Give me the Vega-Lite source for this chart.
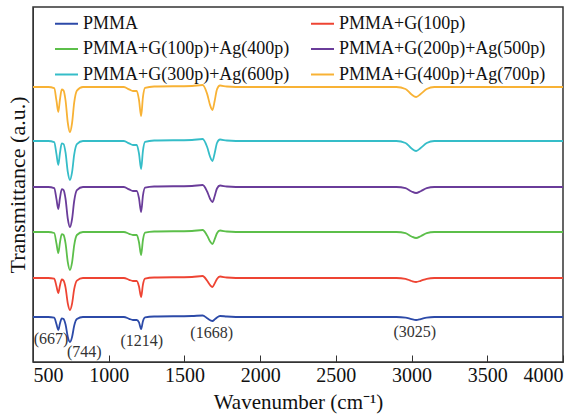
{
"$schema": "https://vega.github.io/schema/vega-lite/v6.json",
"width": 530, "height": 355,
"autosize": {"type": "none"},
"padding": {"left": 33, "top": 7, "right": 23, "bottom": 54},
"config": {"font": "Liberation Serif", "view": {"stroke": "#333333", "strokeWidth": 1.5}},
"layer": [
{
"data": {"values": [
{"s":"PMMA","x":500,"y":47},{"s":"PMMA","x":600,"y":47},{"s":"PMMA","x":640,"y":46.4},{"s":"PMMA","x":655,"y":39.9},{"s":"PMMA","x":667,"y":34},{"s":"PMMA","x":678,"y":40.5},{"s":"PMMA","x":690,"y":45.7},{"s":"PMMA","x":702,"y":45},{"s":"PMMA","x":715,"y":39.5},{"s":"PMMA","x":730,"y":27},{"s":"PMMA","x":744,"y":22},{"s":"PMMA","x":758,"y":27},{"s":"PMMA","x":772,"y":38.3},{"s":"PMMA","x":790,"y":45},{"s":"PMMA","x":830,"y":47},{"s":"PMMA","x":1000,"y":47},{"s":"PMMA","x":1100,"y":47},{"s":"PMMA","x":1135,"y":45.2},{"s":"PMMA","x":1160,"y":44},{"s":"PMMA","x":1185,"y":44},{"s":"PMMA","x":1200,"y":41.6},{"s":"PMMA","x":1214,"y":35},{"s":"PMMA","x":1226,"y":42.8},{"s":"PMMA","x":1240,"y":46.6},{"s":"PMMA","x":1300,"y":47.5},{"s":"PMMA","x":1550,"y":48},{"s":"PMMA","x":1620,"y":48.5},{"s":"PMMA","x":1650,"y":45.8},{"s":"PMMA","x":1670,"y":43.8},{"s":"PMMA","x":1685,"y":43},{"s":"PMMA","x":1700,"y":44.6},{"s":"PMMA","x":1715,"y":46.6},{"s":"PMMA","x":1735,"y":48},{"s":"PMMA","x":1780,"y":47.5},{"s":"PMMA","x":1900,"y":47},{"s":"PMMA","x":2900,"y":47},{"s":"PMMA","x":2960,"y":46.4},{"s":"PMMA","x":3000,"y":44.8},{"s":"PMMA","x":3030,"y":44},{"s":"PMMA","x":3060,"y":44.9},{"s":"PMMA","x":3100,"y":46.4},{"s":"PMMA","x":3150,"y":47},{"s":"PMMA","x":4000,"y":47},
{"s":"PMMA+G(100p)","x":500,"y":86},{"s":"PMMA+G(100p)","x":600,"y":86},{"s":"PMMA+G(100p)","x":640,"y":85.3},{"s":"PMMA+G(100p)","x":655,"y":77.8},{"s":"PMMA+G(100p)","x":667,"y":71},{"s":"PMMA+G(100p)","x":678,"y":78.5},{"s":"PMMA+G(100p)","x":690,"y":84.5},{"s":"PMMA+G(100p)","x":702,"y":83.4},{"s":"PMMA+G(100p)","x":715,"y":76.4},{"s":"PMMA+G(100p)","x":730,"y":60.4},{"s":"PMMA+G(100p)","x":744,"y":54},{"s":"PMMA+G(100p)","x":758,"y":60.4},{"s":"PMMA+G(100p)","x":772,"y":74.8},{"s":"PMMA+G(100p)","x":790,"y":83.4},{"s":"PMMA+G(100p)","x":830,"y":86},{"s":"PMMA+G(100p)","x":1000,"y":86},{"s":"PMMA+G(100p)","x":1100,"y":86},{"s":"PMMA+G(100p)","x":1135,"y":84.2},{"s":"PMMA+G(100p)","x":1160,"y":83},{"s":"PMMA+G(100p)","x":1185,"y":83},{"s":"PMMA+G(100p)","x":1200,"y":77.5},{"s":"PMMA+G(100p)","x":1214,"y":67},{"s":"PMMA+G(100p)","x":1226,"y":79.4},{"s":"PMMA+G(100p)","x":1240,"y":85.4},{"s":"PMMA+G(100p)","x":1300,"y":86.5},{"s":"PMMA+G(100p)","x":1550,"y":87},{"s":"PMMA+G(100p)","x":1620,"y":88},{"s":"PMMA+G(100p)","x":1650,"y":83.3},{"s":"PMMA+G(100p)","x":1670,"y":78.8},{"s":"PMMA+G(100p)","x":1685,"y":77},{"s":"PMMA+G(100p)","x":1700,"y":80.6},{"s":"PMMA+G(100p)","x":1715,"y":85.1},{"s":"PMMA+G(100p)","x":1735,"y":87.5},{"s":"PMMA+G(100p)","x":1780,"y":86.5},{"s":"PMMA+G(100p)","x":1900,"y":86},{"s":"PMMA+G(100p)","x":2900,"y":86},{"s":"PMMA+G(100p)","x":2960,"y":85.2},{"s":"PMMA+G(100p)","x":3000,"y":83},{"s":"PMMA+G(100p)","x":3030,"y":82},{"s":"PMMA+G(100p)","x":3060,"y":83.2},{"s":"PMMA+G(100p)","x":3100,"y":85.2},{"s":"PMMA+G(100p)","x":3150,"y":86},{"s":"PMMA+G(100p)","x":4000,"y":86},
{"s":"PMMA+G(100p)+Ag(400p)","x":500,"y":132},{"s":"PMMA+G(100p)+Ag(400p)","x":600,"y":132},{"s":"PMMA+G(100p)+Ag(400p)","x":640,"y":131},{"s":"PMMA+G(100p)+Ag(400p)","x":655,"y":120.5},{"s":"PMMA+G(100p)+Ag(400p)","x":667,"y":111},{"s":"PMMA+G(100p)+Ag(400p)","x":678,"y":121.5},{"s":"PMMA+G(100p)+Ag(400p)","x":690,"y":129.9},{"s":"PMMA+G(100p)+Ag(400p)","x":702,"y":129},{"s":"PMMA+G(100p)+Ag(400p)","x":715,"y":120.6},{"s":"PMMA+G(100p)+Ag(400p)","x":730,"y":101.6},{"s":"PMMA+G(100p)+Ag(400p)","x":744,"y":94},{"s":"PMMA+G(100p)+Ag(400p)","x":758,"y":101.6},{"s":"PMMA+G(100p)+Ag(400p)","x":772,"y":118.7},{"s":"PMMA+G(100p)+Ag(400p)","x":790,"y":129},{"s":"PMMA+G(100p)+Ag(400p)","x":830,"y":132},{"s":"PMMA+G(100p)+Ag(400p)","x":1000,"y":132},{"s":"PMMA+G(100p)+Ag(400p)","x":1100,"y":132},{"s":"PMMA+G(100p)+Ag(400p)","x":1135,"y":130.2},{"s":"PMMA+G(100p)+Ag(400p)","x":1160,"y":129},{"s":"PMMA+G(100p)+Ag(400p)","x":1185,"y":129},{"s":"PMMA+G(100p)+Ag(400p)","x":1200,"y":121.7},{"s":"PMMA+G(100p)+Ag(400p)","x":1214,"y":109},{"s":"PMMA+G(100p)+Ag(400p)","x":1226,"y":124},{"s":"PMMA+G(100p)+Ag(400p)","x":1240,"y":131.3},{"s":"PMMA+G(100p)+Ag(400p)","x":1300,"y":132.5},{"s":"PMMA+G(100p)+Ag(400p)","x":1550,"y":133},{"s":"PMMA+G(100p)+Ag(400p)","x":1620,"y":134},{"s":"PMMA+G(100p)+Ag(400p)","x":1650,"y":128.4},{"s":"PMMA+G(100p)+Ag(400p)","x":1670,"y":122.4},{"s":"PMMA+G(100p)+Ag(400p)","x":1685,"y":120},{"s":"PMMA+G(100p)+Ag(400p)","x":1700,"y":124.8},{"s":"PMMA+G(100p)+Ag(400p)","x":1715,"y":130.8},{"s":"PMMA+G(100p)+Ag(400p)","x":1735,"y":133.5},{"s":"PMMA+G(100p)+Ag(400p)","x":1780,"y":132.5},{"s":"PMMA+G(100p)+Ag(400p)","x":1900,"y":132},{"s":"PMMA+G(100p)+Ag(400p)","x":2900,"y":132},{"s":"PMMA+G(100p)+Ag(400p)","x":2960,"y":130.8},{"s":"PMMA+G(100p)+Ag(400p)","x":3000,"y":127.5},{"s":"PMMA+G(100p)+Ag(400p)","x":3030,"y":126},{"s":"PMMA+G(100p)+Ag(400p)","x":3060,"y":127.8},{"s":"PMMA+G(100p)+Ag(400p)","x":3100,"y":130.8},{"s":"PMMA+G(100p)+Ag(400p)","x":3150,"y":132},{"s":"PMMA+G(100p)+Ag(400p)","x":4000,"y":132},
{"s":"PMMA+G(200p)+Ag(500p)","x":500,"y":177},{"s":"PMMA+G(200p)+Ag(500p)","x":600,"y":177},{"s":"PMMA+G(200p)+Ag(500p)","x":640,"y":175.9},{"s":"PMMA+G(200p)+Ag(500p)","x":655,"y":164.9},{"s":"PMMA+G(200p)+Ag(500p)","x":667,"y":155},{"s":"PMMA+G(200p)+Ag(500p)","x":678,"y":166},{"s":"PMMA+G(200p)+Ag(500p)","x":690,"y":174.8},{"s":"PMMA+G(200p)+Ag(500p)","x":702,"y":173.8},{"s":"PMMA+G(200p)+Ag(500p)","x":715,"y":165},{"s":"PMMA+G(200p)+Ag(500p)","x":730,"y":145},{"s":"PMMA+G(200p)+Ag(500p)","x":744,"y":137},{"s":"PMMA+G(200p)+Ag(500p)","x":758,"y":145},{"s":"PMMA+G(200p)+Ag(500p)","x":772,"y":163},{"s":"PMMA+G(200p)+Ag(500p)","x":790,"y":173.8},{"s":"PMMA+G(200p)+Ag(500p)","x":830,"y":177},{"s":"PMMA+G(200p)+Ag(500p)","x":1000,"y":177},{"s":"PMMA+G(200p)+Ag(500p)","x":1100,"y":177},{"s":"PMMA+G(200p)+Ag(500p)","x":1135,"y":174.6},{"s":"PMMA+G(200p)+Ag(500p)","x":1160,"y":173},{"s":"PMMA+G(200p)+Ag(500p)","x":1185,"y":173},{"s":"PMMA+G(200p)+Ag(500p)","x":1200,"y":165.8},{"s":"PMMA+G(200p)+Ag(500p)","x":1214,"y":152},{"s":"PMMA+G(200p)+Ag(500p)","x":1226,"y":168.3},{"s":"PMMA+G(200p)+Ag(500p)","x":1240,"y":176.3},{"s":"PMMA+G(200p)+Ag(500p)","x":1300,"y":177.5},{"s":"PMMA+G(200p)+Ag(500p)","x":1550,"y":178},{"s":"PMMA+G(200p)+Ag(500p)","x":1620,"y":179},{"s":"PMMA+G(200p)+Ag(500p)","x":1650,"y":172.5},{"s":"PMMA+G(200p)+Ag(500p)","x":1670,"y":165},{"s":"PMMA+G(200p)+Ag(500p)","x":1685,"y":162},{"s":"PMMA+G(200p)+Ag(500p)","x":1700,"y":168},{"s":"PMMA+G(200p)+Ag(500p)","x":1715,"y":175.5},{"s":"PMMA+G(200p)+Ag(500p)","x":1735,"y":178.5},{"s":"PMMA+G(200p)+Ag(500p)","x":1780,"y":177.5},{"s":"PMMA+G(200p)+Ag(500p)","x":1900,"y":177},{"s":"PMMA+G(200p)+Ag(500p)","x":2900,"y":177},{"s":"PMMA+G(200p)+Ag(500p)","x":2960,"y":175.8},{"s":"PMMA+G(200p)+Ag(500p)","x":3000,"y":172.5},{"s":"PMMA+G(200p)+Ag(500p)","x":3030,"y":171},{"s":"PMMA+G(200p)+Ag(500p)","x":3060,"y":172.8},{"s":"PMMA+G(200p)+Ag(500p)","x":3100,"y":175.8},{"s":"PMMA+G(200p)+Ag(500p)","x":3150,"y":177},{"s":"PMMA+G(200p)+Ag(500p)","x":4000,"y":177},
{"s":"PMMA+G(300p)+Ag(600p)","x":500,"y":223},{"s":"PMMA+G(300p)+Ag(600p)","x":600,"y":223},{"s":"PMMA+G(300p)+Ag(600p)","x":640,"y":221.8},{"s":"PMMA+G(300p)+Ag(600p)","x":655,"y":209.8},{"s":"PMMA+G(300p)+Ag(600p)","x":667,"y":199},{"s":"PMMA+G(300p)+Ag(600p)","x":678,"y":211},{"s":"PMMA+G(300p)+Ag(600p)","x":690,"y":220.6},{"s":"PMMA+G(300p)+Ag(600p)","x":702,"y":219.9},{"s":"PMMA+G(300p)+Ag(600p)","x":715,"y":211.3},{"s":"PMMA+G(300p)+Ag(600p)","x":730,"y":191.8},{"s":"PMMA+G(300p)+Ag(600p)","x":744,"y":184},{"s":"PMMA+G(300p)+Ag(600p)","x":758,"y":191.8},{"s":"PMMA+G(300p)+Ag(600p)","x":772,"y":209.4},{"s":"PMMA+G(300p)+Ag(600p)","x":790,"y":219.9},{"s":"PMMA+G(300p)+Ag(600p)","x":830,"y":223},{"s":"PMMA+G(300p)+Ag(600p)","x":1000,"y":223},{"s":"PMMA+G(300p)+Ag(600p)","x":1100,"y":223},{"s":"PMMA+G(300p)+Ag(600p)","x":1135,"y":220.6},{"s":"PMMA+G(300p)+Ag(600p)","x":1160,"y":219},{"s":"PMMA+G(300p)+Ag(600p)","x":1185,"y":219},{"s":"PMMA+G(300p)+Ag(600p)","x":1200,"y":210.4},{"s":"PMMA+G(300p)+Ag(600p)","x":1214,"y":195},{"s":"PMMA+G(300p)+Ag(600p)","x":1226,"y":213.2},{"s":"PMMA+G(300p)+Ag(600p)","x":1240,"y":222.2},{"s":"PMMA+G(300p)+Ag(600p)","x":1300,"y":223.5},{"s":"PMMA+G(300p)+Ag(600p)","x":1550,"y":224},{"s":"PMMA+G(300p)+Ag(600p)","x":1620,"y":225},{"s":"PMMA+G(300p)+Ag(600p)","x":1650,"y":217},{"s":"PMMA+G(300p)+Ag(600p)","x":1670,"y":207},{"s":"PMMA+G(300p)+Ag(600p)","x":1685,"y":203},{"s":"PMMA+G(300p)+Ag(600p)","x":1700,"y":211},{"s":"PMMA+G(300p)+Ag(600p)","x":1715,"y":221},{"s":"PMMA+G(300p)+Ag(600p)","x":1735,"y":224.5},{"s":"PMMA+G(300p)+Ag(600p)","x":1780,"y":223.5},{"s":"PMMA+G(300p)+Ag(600p)","x":1900,"y":223},{"s":"PMMA+G(300p)+Ag(600p)","x":2900,"y":223},{"s":"PMMA+G(300p)+Ag(600p)","x":2960,"y":221},{"s":"PMMA+G(300p)+Ag(600p)","x":3000,"y":215.5},{"s":"PMMA+G(300p)+Ag(600p)","x":3030,"y":213},{"s":"PMMA+G(300p)+Ag(600p)","x":3060,"y":216},{"s":"PMMA+G(300p)+Ag(600p)","x":3100,"y":221},{"s":"PMMA+G(300p)+Ag(600p)","x":3150,"y":223},{"s":"PMMA+G(300p)+Ag(600p)","x":4000,"y":223},
{"s":"PMMA+G(400p)+Ag(700p)","x":500,"y":277},{"s":"PMMA+G(400p)+Ag(700p)","x":600,"y":277},{"s":"PMMA+G(400p)+Ag(700p)","x":640,"y":275.8},{"s":"PMMA+G(400p)+Ag(700p)","x":655,"y":263.3},{"s":"PMMA+G(400p)+Ag(700p)","x":667,"y":252},{"s":"PMMA+G(400p)+Ag(700p)","x":678,"y":264.5},{"s":"PMMA+G(400p)+Ag(700p)","x":690,"y":274.5},{"s":"PMMA+G(400p)+Ag(700p)","x":702,"y":273.4},{"s":"PMMA+G(400p)+Ag(700p)","x":715,"y":263.5},{"s":"PMMA+G(400p)+Ag(700p)","x":730,"y":241},{"s":"PMMA+G(400p)+Ag(700p)","x":744,"y":232},{"s":"PMMA+G(400p)+Ag(700p)","x":758,"y":241},{"s":"PMMA+G(400p)+Ag(700p)","x":772,"y":261.3},{"s":"PMMA+G(400p)+Ag(700p)","x":790,"y":273.4},{"s":"PMMA+G(400p)+Ag(700p)","x":830,"y":277},{"s":"PMMA+G(400p)+Ag(700p)","x":1000,"y":277},{"s":"PMMA+G(400p)+Ag(700p)","x":1100,"y":277},{"s":"PMMA+G(400p)+Ag(700p)","x":1135,"y":274.6},{"s":"PMMA+G(400p)+Ag(700p)","x":1160,"y":273},{"s":"PMMA+G(400p)+Ag(700p)","x":1185,"y":273},{"s":"PMMA+G(400p)+Ag(700p)","x":1200,"y":264},{"s":"PMMA+G(400p)+Ag(700p)","x":1214,"y":248},{"s":"PMMA+G(400p)+Ag(700p)","x":1226,"y":266.9},{"s":"PMMA+G(400p)+Ag(700p)","x":1240,"y":276.1},{"s":"PMMA+G(400p)+Ag(700p)","x":1300,"y":277.5},{"s":"PMMA+G(400p)+Ag(700p)","x":1550,"y":278},{"s":"PMMA+G(400p)+Ag(700p)","x":1620,"y":279},{"s":"PMMA+G(400p)+Ag(700p)","x":1650,"y":270.1},{"s":"PMMA+G(400p)+Ag(700p)","x":1670,"y":258.6},{"s":"PMMA+G(400p)+Ag(700p)","x":1685,"y":254},{"s":"PMMA+G(400p)+Ag(700p)","x":1700,"y":263.2},{"s":"PMMA+G(400p)+Ag(700p)","x":1715,"y":274.7},{"s":"PMMA+G(400p)+Ag(700p)","x":1735,"y":278.5},{"s":"PMMA+G(400p)+Ag(700p)","x":1780,"y":277.5},{"s":"PMMA+G(400p)+Ag(700p)","x":1900,"y":277},{"s":"PMMA+G(400p)+Ag(700p)","x":2900,"y":277},{"s":"PMMA+G(400p)+Ag(700p)","x":2960,"y":275},{"s":"PMMA+G(400p)+Ag(700p)","x":3000,"y":269.5},{"s":"PMMA+G(400p)+Ag(700p)","x":3030,"y":267},{"s":"PMMA+G(400p)+Ag(700p)","x":3060,"y":270},{"s":"PMMA+G(400p)+Ag(700p)","x":3100,"y":275},{"s":"PMMA+G(400p)+Ag(700p)","x":3150,"y":277},{"s":"PMMA+G(400p)+Ag(700p)","x":4000,"y":277}
]},
"mark": {"type": "line", "interpolate": "monotone", "strokeWidth": 1.8},
"encoding": {
"x": {"field": "x", "type": "quantitative", "scale": {"domain": [500, 4000], "nice": false},
 "axis": {"title": "Wavenumber (cm⁻¹)", "values": [500,1000,1500,2000,2500,3000,3500,4000], "format": "d", "grid": false, "tickSize": -7, "tickColor": "#333333", "domainColor": "#333333", "labelFontSize": 20, "labelColor": "#111111", "labelPadding": 10, "titleFontSize": 21, "titleFontWeight": "normal", "titleColor": "#111111", "titlePadding": 6}},
"y": {"field": "y", "type": "quantitative", "scale": {"domain": [2, 357], "nice": false},
 "axis": {"title": "Transmittance (a.u.)", "labels": false, "ticks": false, "grid": false, "domainColor": "#333333", "titleFontSize": 22, "titleFontWeight": "normal", "titleColor": "#111111", "titlePadding": 4}},
"color": {"field": "s", "type": "nominal",
 "scale": {"domain": ["PMMA","PMMA+G(100p)","PMMA+G(100p)+Ag(400p)","PMMA+G(200p)+Ag(500p)","PMMA+G(300p)+Ag(600p)","PMMA+G(400p)+Ag(700p)"],
  "range": ["#2c4aa8","#ee4433","#5cbf4a","#6a3c9a","#35bdc8","#f8b235"]},
 "legend": {"orient": "none", "legendX": 21, "legendY": 4, "columns": 2, "direction": "horizontal", "title": null, "labelFontSize": 18, "labelColor": "#111111", "labelLimit": 400, "symbolType": "stroke", "symbolSize": 529, "symbolStrokeWidth": 2, "rowPadding": 3.5, "columnPadding": 17, "labelOffset": 4, "padding": 0}}
}
},
{
"data": {"values": [
{"x":619,"y":25,"t":"(667)"},{"x":839,"y":12,"t":"(744)"},{"x":1218,"y":23.3,"t":"(1214)"},{"x":1680,"y":31,"t":"(1668)"},{"x":3021,"y":32,"t":"(3025)"}
]},
"mark": {"type": "text", "fontSize": 16, "color": "#333333", "baseline": "middle"},
"encoding": {
"x": {"field": "x", "type": "quantitative"},
"y": {"field": "y", "type": "quantitative"},
"text": {"field": "t"}
}
}
]
}
